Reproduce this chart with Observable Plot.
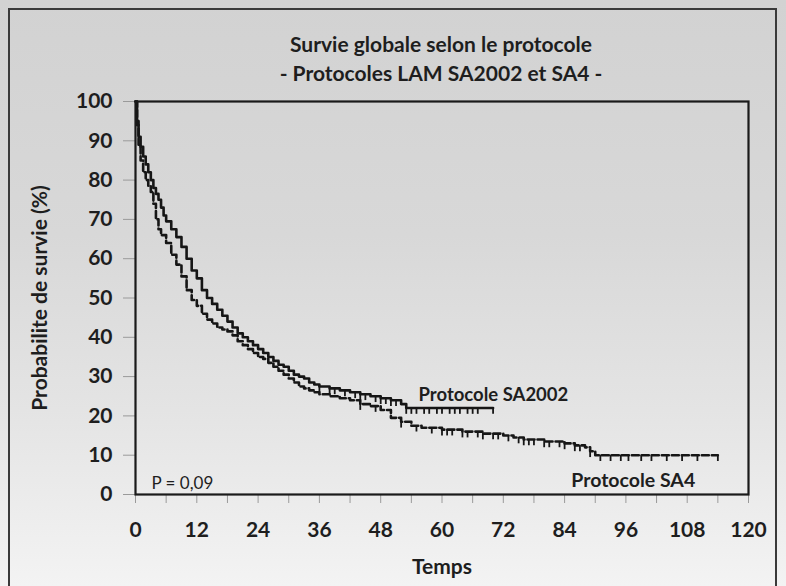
<!DOCTYPE html>
<html>
<head>
<meta charset="utf-8">
<script src="https://cdn.jsdelivr.net/npm/d3@7"></script>
<script src="https://cdn.jsdelivr.net/npm/@observablehq/plot@0.6"></script>
<style>
  html, body { margin: 0; padding: 0; background: #f2f2f2; }
  #wrap {
    position: relative; width: 786px; height: 586px; overflow: hidden;
    background: linear-gradient(to bottom, #d2d2d2 0%, #d8d8d8 40%, #e4e4e4 70%, #f3f3f3 100%);
    font-family: Lato, "Open Sans", sans-serif;
  }
  #border {
    position: absolute; left: 8px; top: 8px; width: 769px; height: 600px;
    border: 2px solid #3a3a3a; box-sizing: border-box;
  }
  #title {
    position: relative; height: 88px; box-sizing: border-box; padding-top: 29px;
    text-align: center; font-weight: bold; font-size: 21px; line-height: 29px; color: #1e1e1e;
    padding-left: 96px;
  }
  #chart svg { display: block; }
</style>
</head>
<body>
<div id="wrap">
  <div id="border"></div>
  <div id="title">Survie globale selon le protocole<br>- Protocoles LAM SA2002 et SA4 -</div>
  <div id="chart"></div>
</div>
<script>
// Kaplan-Meier curves (time in months, survival %)
const timesSA2002 = [0, 0.3, 0.6, 1, 1.5, 2, 2.5, 3, 3.5, 4, 4.5, 5, 5.5, 6, 7, 8, 9, 10, 11, 12, 13, 14, 15, 16, 17, 18, 19, 20, 21, 22, 23, 24, 25, 26, 27, 28, 29, 30, 31, 32, 33, 34, 35, 36, 38, 40, 42, 44, 46, 48, 50, 52, 53, 70];
const survSA2002  = [100, 95, 91, 88.5, 86, 84, 82, 80, 78, 76.5, 75, 73, 71, 69.5, 67.5, 65.5, 63, 60, 57, 55, 52, 50, 48.5, 47, 45.5, 44, 42.5, 41, 40, 39, 38, 37, 36, 35, 34, 33, 32.5, 31.5, 30.5, 30, 29.5, 28.5, 28, 27.5, 27, 26.5, 26, 25.5, 25, 24.5, 24, 23, 22, 22];

const timesSA4 = [0, 0.3, 0.6, 1, 1.5, 2, 2.5, 3, 3.5, 4, 4.5, 5, 6, 7, 8, 9, 10, 11, 12, 13, 14, 15, 16, 17, 18, 19, 20, 21, 22, 23, 24, 25, 26, 27, 28, 29, 30, 31, 32, 33, 34, 35, 36, 38, 40, 42, 44, 46, 48, 50, 52, 54, 56, 58, 60, 62, 64, 66, 68, 70, 72, 74, 76, 78, 80, 82, 84, 86, 88, 89, 90, 114];
const survSA4  = [100, 94, 89, 85, 82, 80, 78.5, 77, 74, 70, 67.5, 66, 64, 61, 58.5, 55.5, 52, 49.5, 48, 46, 44.5, 43.5, 42.5, 42, 41.5, 40.5, 39, 38, 37, 36, 35, 34.5, 33.5, 32.5, 31.5, 30.5, 29.5, 28.5, 27.5, 27, 26.5, 26, 25.5, 25, 24.5, 24, 23, 22.5, 21.5, 19.5, 18.5, 17.5, 17, 17, 16.5, 16.5, 16, 16, 15.5, 15.5, 15, 14.5, 14, 14, 13.5, 13.5, 13, 12.5, 12, 11, 10, 10];

// censoring times (ticks on the curves)
const censorSA2002 = [36, 38, 39, 41, 43, 44, 45, 47, 48, 49, 50, 51, 53, 54, 55, 56.5, 57.5, 59, 60, 61.5, 62.5, 63.5, 65, 66, 67, 70];
const censorSA4 = [44, 47, 52, 55, 58, 60, 61, 62, 64, 65, 67, 68, 70, 71, 73, 75, 76, 77, 78, 80, 81, 83, 84, 86, 87, 89, 91, 93, 95, 96.5, 99, 101, 104, 107, 110, 114];

const yTicks = [0, 10, 20, 30, 40, 50, 60, 70, 80, 90, 100];
const xTicks = [0, 12, 24, 36, 48, 60, 72, 84, 96, 108, 120];
const xMinorTicks = [0, 6, 12, 18, 24, 30, 36, 42, 48, 54, 60, 66, 72, 78, 84, 90, 96, 102, 108, 114, 120];

const seriesNames = ["Protocole SA2002", "Protocole SA4"];
const pValueText = "P = 0,09";
const xLabel = "Temps";
const yLabel = "Probabilite de survie (%)";

const rows = (ts, vs) => ts.map((t, i) => ({t, v: vs[i]}));
const stepAt = (ts, vs, t) => { let v = vs[0]; for (let i = 0; i < ts.length; i++) if (ts[i] <= t) v = vs[i]; return v; };
const censorRows = (cs, ts, vs) => cs.map(t => ({t, v: stepAt(ts, vs, t)}));

const a = rows(timesSA2002, survSA2002);
const b = rows(timesSA4, survSA4);
const ca = censorRows(censorSA2002, timesSA2002, survSA2002);
const cb = censorRows(censorSA4, timesSA4, survSA4);

const ink = "#161616";
const chart = Plot.plot({
  width: 786,
  height: 498,
  marginLeft: 135,
  marginRight: 38,
  marginTop: 13,
  marginBottom: 92,
  style: {background: "transparent", fontFamily: "Lato, 'Open Sans', sans-serif", overflow: "visible"},
  x: {domain: [0, 120]},
  y: {domain: [0, 100]},
  marks: [
    Plot.axisY({ticks: yTicks, tickSize: 12, tickPadding: 11, stroke: "#9a9a9a", fill: "#1e1e1e", fontSize: 21, fontWeight: "bold", label: null}),
    Plot.axisX({ticks: xMinorTicks, tickSize: 9, stroke: "#9a9a9a", text: null, label: null}),
    Plot.axisX({ticks: xTicks, tickSize: 0, tickPadding: 28, fill: "#1e1e1e", fontSize: 21, fontWeight: "bold", label: null}),
    Plot.line(a, {x: "t", y: "v", curve: "step-after", stroke: ink, strokeWidth: 2.6}),
    Plot.line(b, {x: "t", y: "v", curve: "step-after", stroke: ink, strokeWidth: 2.6, strokeDasharray: "7,3"}),
    Plot.ruleX(ca, {x: "t", y1: "v", y2: d => d.v - 1.6, stroke: ink, strokeWidth: 1.8}),
    Plot.ruleX(cb, {x: "t", y1: "v", y2: d => d.v - 1.6, stroke: ink, strokeWidth: 1.8}),
    Plot.frame({stroke: "#1a1a1a", strokeWidth: 2.2}),
    Plot.text([seriesNames[0]], {x: 55.4, y: 25.2, text: d => d, textAnchor: "start", fontSize: 18.5, fontWeight: "bold", fill: "#1e1e1e"}),
    Plot.text([seriesNames[1]], {x: 85.3, y: 3.6, text: d => d, textAnchor: "start", fontSize: 19.5, fontWeight: "bold", fill: "#1e1e1e"}),
    Plot.text([pValueText], {frameAnchor: "bottom-left", dx: 16, dy: -6, text: d => d, textAnchor: "start", fontSize: 17, fill: "#1e1e1e"}),
    Plot.text([xLabel], {frameAnchor: "bottom", dy: 79, text: d => d, fontSize: 21, fontWeight: "bold", fill: "#1e1e1e"}),
    Plot.text([yLabel], {frameAnchor: "left", dx: -95, rotate: -90, textAnchor: "middle", lineAnchor: "middle", text: d => d, fontSize: 21, fontWeight: "bold", fill: "#1e1e1e"})
  ]
});
document.getElementById("chart").appendChild(chart);
</script>
</body>
</html>
